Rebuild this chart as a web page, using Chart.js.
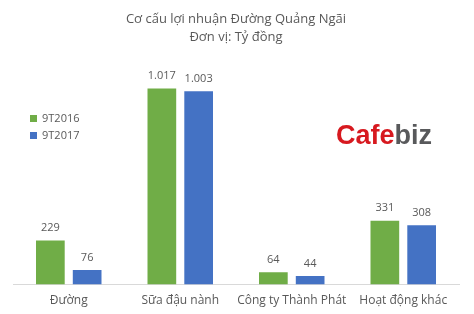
<!DOCTYPE html>
<html>
<head>
<meta charset="utf-8">
<script src="https://cdn.jsdelivr.net/npm/chart.js@4/dist/chart.umd.min.js"></script>
<style>
  body { margin: 0; background: #fff; }
  #wrap { position: relative; width: 474px; height: 314px; }
  #legend { position: absolute; left: 30px; top: 109px; font-family: "Open Sans", sans-serif; font-size: 11px; color: #595959; }
  #legend div { height: 17px; line-height: 17px; }
  #legend span { display: inline-block; width: 7px; height: 7px; margin-right: 5px; vertical-align: 0px; }
</style>
</head>
<body>
<div id="wrap">
  <canvas id="chart" width="474" height="314"></canvas>
  <div id="legend"></div>
</div>
<script>
const categories = ["Đường", "Sữa đậu nành", "Công ty Thành Phát", "Hoạt động khác"];
const series2016 = [229, 1017, 64, 331];
const series2017 = [76, 1003, 44, 308];
const seriesNames = ["9T2016", "9T2017"];
const colors = ["#70ad47", "#4472c4"];

function fmt(v) {
  return v.toLocaleString("de-DE");
}

// legend as html
const legend = document.getElementById("legend");
seriesNames.forEach((name, i) => {
  legend.innerHTML += `<div><span style="background:${colors[i]}"></span>${name}</div>`;
});

const valueLabels = {
  id: "valueLabels",
  afterDatasetsDraw(chart) {
    const ctx = chart.ctx;
    ctx.save();
    ctx.font = "11px 'Open Sans', sans-serif";
    ctx.fillStyle = "#595959";
    ctx.textAlign = "center";
    ctx.textBaseline = "bottom";
    chart.data.datasets.forEach((ds, i) => {
      chart.getDatasetMeta(i).data.forEach((bar, j) => {
        ctx.fillText(fmt(ds.data[j]), bar.x, bar.y - 7);
      });
    });
    ctx.restore();
  }
};

const watermark = {
  id: "watermark",
  afterDraw(chart) {
    const ctx = chart.ctx;
    ctx.save();
    ctx.font = "bold 27px 'Liberation Sans', sans-serif";
    ctx.textBaseline = "middle";
    ctx.fillStyle = "#d7191f";
    ctx.fillText("Cafe", 336, 137);
    const w = ctx.measureText("Cafe").width;
    ctx.fillStyle = "#58595b";
    ctx.fillText("biz", 336 + w, 137);
    ctx.restore();
  }
};

new Chart(document.getElementById("chart"), {
  type: "bar",
  data: {
    labels: categories,
    datasets: [
      { label: seriesNames[0], data: series2016, backgroundColor: colors[0] },
      { label: seriesNames[1], data: series2017, backgroundColor: colors[1] }
    ]
  },
  options: {
    responsive: false,
    animation: false,
    layout: { padding: { left: 13, right: 15, bottom: 5 } },
    categoryPercentage: 0.66,
    barPercentage: 0.78,
    plugins: {
      legend: { display: false },
      tooltip: { enabled: false },
      title: {
        display: true,
        text: ["Cơ cấu lợi nhuận Đường Quảng Ngãi", "Đơn vị: Tỷ đồng"],
        color: "#595959",
        font: { family: "'Open Sans', sans-serif", size: 13, weight: "normal", lineHeight: 1.35 },
        padding: { top: 11, bottom: 13 }
      }
    },
    scales: {
      x: {
        grid: { display: false },
        border: { color: "#d9d9d9" },
        ticks: { color: "#595959", font: { family: "'Open Sans', sans-serif", size: 12 }, padding: 1, maxRotation: 0, autoSkip: false }
      },
      y: {
        display: false,
        min: 0,
        max: 1170
      }
    }
  },
  plugins: [valueLabels, watermark]
});
</script>
</body>
</html>
